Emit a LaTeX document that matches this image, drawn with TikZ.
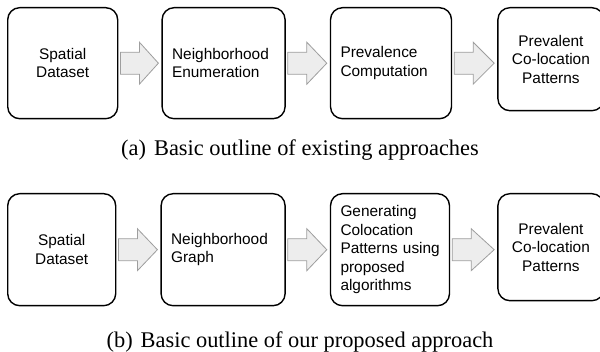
\documentclass[tikz,border=0pt]{standalone}
\usepackage{fontspec}
\setmainfont{Liberation Serif}
\setsansfont{Liberation Sans}
\usetikzlibrary{calc,positioning}

\begin{document}
\begin{tikzpicture}[
  box/.style={draw=black, line width=0.7pt, rounded corners=6pt, inner sep=5pt,
    font=\sffamily\fontsize{7.7}{9.25}\selectfont},
  flow/.style={draw=black!38, fill=black!7, line width=0.4pt,
    to path={($(\tikztostart.east)+(1pt,5.5pt)$) -- ++(9.5pt,0) -- ++(0,5pt)
      -- ($(\tikztostart.east -| \tikztotarget.west)+(-1.5pt,0)$)
      -- ($(\tikztostart.east)+(10.5pt,-10.5pt)$) -- ++(0,5pt)
      -- ($(\tikztostart.east)+(1pt,-5.5pt)$) -- cycle}},
  caption/.style={font=\fontsize{11.2}{13}\selectfont}
]
  \useasboundingbox (0,0) rectangle (300pt,176pt);

  % existing approaches
  \node[box, text width=45pt, align=center, minimum height=55.5pt, anchor=north west]
    (data1) at (3.5pt,172.5pt) {Spatial\\Dataset};
  \node[box, text width=51.5pt, align=left, minimum height=55.5pt, right=21.5pt of data1]
    (nbr1) {Neighborhood\\Enumeration};
  \node[box, text width=50.5pt, align=left, minimum height=55.5pt, right=22pt of nbr1]
    (prev1) {Prevalence\\Computation};
  \node[box, text width=43pt, align=center, minimum height=51.5pt,
    right=22.5pt of prev1.north east, anchor=north west]
    (pat1) {Prevalent\\Co-location\\Patterns};

  \draw[flow] (data1) to (nbr1);
  \draw[flow] (nbr1) to (prev1);
  \draw[flow] (prev1) to (pat1);

  \node[caption] (capA) at (150pt,101pt) {(a)\hspace{4pt}Basic outline of existing approaches};

  % proposed approach
  \node[box, text width=44pt, align=center, minimum height=56pt, anchor=north west]
    (data2) at (3.5pt,79.5pt) {Spatial\\Dataset};
  \node[box, text width=52pt, align=left, minimum height=56pt, right=22pt of data2]
    (graph2) {Neighborhood\\Graph};
  \node[box, text width=49.5pt, align=left, minimum height=56pt, right=22pt of graph2]
    (gen2) {Generating\\Colocation\\\mbox{Patterns using}\\proposed\\algorithms};
  \node[box, text width=43pt, align=center, minimum height=53.5pt,
    right=23.5pt of gen2.north east, anchor=north west]
    (pat2) {Prevalent\\Co-location\\Patterns};

  \draw[flow] (data2) to (graph2);
  \draw[flow] (graph2) to (gen2);
  \draw[flow] (gen2) to (pat2);

  \node[caption] (capB) at (150pt,5pt) {(b)\hspace{4pt}Basic outline of our proposed approach};
\end{tikzpicture}
\end{document}
